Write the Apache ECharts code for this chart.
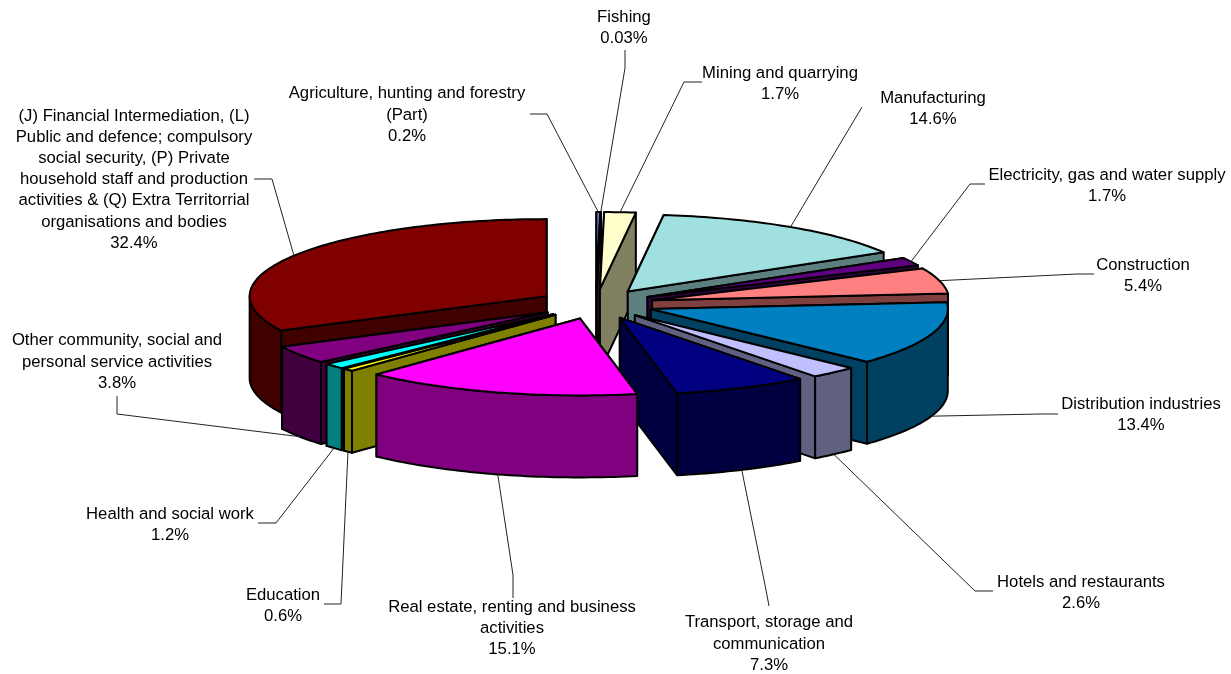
<!DOCTYPE html>
<html>
<head>
<meta charset="utf-8">
<style>html,body{margin:0;padding:0;background:#fff}#c{width:1231px;height:674px}</style>
<script src="https://cdn.jsdelivr.net/npm/echarts@6/dist/echarts.min.js"></script>
</head>
<body>
<div id="c"></div>
<script>
const categories = [
  "Agriculture, hunting and forestry\n(Part)",
  "Fishing",
  "Mining and quarrying",
  "Manufacturing",
  "Electricity, gas and water supply",
  "Construction",
  "Distribution industries",
  "Hotels and restaurants",
  "Transport, storage and\ncommunication",
  "Real estate, renting and business\nactivities",
  "Education",
  "Health and social work",
  "Other community, social and\npersonal service activities",
  "(J) Financial Intermediation, (L)\nPublic and defence; compulsory\nsocial security, (P) Private\nhousehold staff and production\nactivities & (Q) Extra Territorrial\norganisations and bodies"
];
const shares = [0.2, 0.03, 1.7, 14.6, 1.7, 5.4, 13.4, 2.6, 7.3, 15.1, 0.6, 1.2, 3.8, 32.4];
const topColors = ["#8080ff","#802060","#ffffcc","#a0e0e0","#600080","#ff8080","#0080c0","#c0c0ff","#000080","#ff00ff","#ffff00","#00ffff","#800080","#800000"];
const sideColors = ["#404080","#401030","#808060","#5c8080","#300040","#804040","#004060","#606080","#000040","#800080","#808000","#008080","#400040","#400000"];
const labelCenters = [[407,115],[624,27.5],[780,83.5],[933,108.5],[1107,185.5],[1143,275.5],[1141,414.5],[1081,592.5],[769,644],[512,628.5],[283,605.5],[170,524.5],[117,362],[134,179.5]];
const leaderStarts = [
  [[530,114],[547,114]], [[625,50],[625,68]], [[702,82],[684,82]], [[862,107]],
  [[985,184],[970,184]], [[1094,274],[1077,274]], [[1058,414],[1040,414]], [[993,591],[975,591]],
  [[769,606],[766,590]], [[513,598],[513,575]], [[324,604],[341,604]], [[258,523],[276,523]],
  [[117,396],[117,414]], [[254,179],[272,179]]
];

// projection of the tilted pie
const pie = {cx: 596, cy: 304, rx: 297, ry: 77, depth: 82, ex: 58, ey: 15};
const total = shares.reduce((a, b) => a + b, 0);
const slices = [];
let run = 0;
shares.forEach(v => {
  const a0 = run / total * Math.PI * 2;
  run += v;
  const a1 = run / total * Math.PI * 2;
  slices.push({a0, a1, mid: (a0 + a1) / 2});
});
function apexOf(s) {
  return [pie.cx + pie.ex * Math.sin(s.mid), pie.cy - pie.ey * Math.cos(s.mid)];
}
function rim(ap, a, drop) {
  return [ap[0] + pie.rx * Math.sin(a), ap[1] - pie.ry * Math.cos(a) + (drop || 0)];
}
function arcPts(ap, a0, a1, drop) {
  const n = Math.max(1, Math.ceil((a1 - a0) / 0.02));
  const out = [];
  for (let i = 0; i <= n; i++) out.push(rim(ap, a0 + (a1 - a0) * i / n, drop));
  return out;
}
const paintOrder = shares.map((_, i) => i).sort((p, q) => Math.cos(slices[q].mid) - Math.cos(slices[p].mid));
const rank = [];
paintOrder.forEach((idx, r) => { rank[idx] = r; });

function poly(points, fill, z2) {
  return {
    type: 'polygon', z2, silent: true,
    shape: {points},
    style: {fill, stroke: '#000', lineWidth: 2, lineJoin: 'round'}
  };
}
function cutFace(ap, a, fill, z2) {
  const r = rim(ap, a), b = rim(ap, a, pie.depth);
  return poly([ap, r, b, [ap[0], ap[1] + pie.depth]], fill, z2);
}
function renderSlice(params, api) {
  const i = api.value(0);
  const s = slices[i];
  const ap = apexOf(s);
  const base = rank[i] * 10;
  const children = [];
  // hidden cut faces first, then the faces turned to the viewer, then the top
  const startVisible = Math.sin(s.a0) < 0, endVisible = Math.sin(s.a1) > 0;
  if (!startVisible) children.push(cutFace(ap, s.a0, sideColors[i], base));
  if (!endVisible) children.push(cutFace(ap, s.a1, sideColors[i], base));
  if (startVisible) children.push(cutFace(ap, s.a0, sideColors[i], base + 1));
  if (endVisible) children.push(cutFace(ap, s.a1, sideColors[i], base + 1));
  const w0 = Math.max(s.a0, Math.PI / 2), w1 = Math.min(s.a1, Math.PI * 1.5);
  if (w1 > w0) {
    children.push(poly(arcPts(ap, w0, w1).concat(arcPts(ap, w0, w1, pie.depth).reverse()), sideColors[i], base + 2));
  }
  children.push(poly([ap].concat(arcPts(ap, s.a0, s.a1)), topColors[i], base + 3));
  return {type: 'group', children};
}
function renderLabel(params, api) {
  const i = api.value(0);
  const s = slices[i];
  const ap = apexOf(s);
  const front = Math.cos(s.mid) < 0;
  const end = rim(ap, s.mid, front ? pie.depth : 0);
  const v = api.value(1);
  const c = labelCenters[i];
  return {type: 'group', children: [
    {type: 'polyline', z2: 500, silent: true,
      shape: {points: leaderStarts[i].concat([end])},
      style: {fill: null, stroke: '#222', lineWidth: 1}},
    {type: 'text', z2: 501, silent: true,
      style: {
        x: c[0], y: c[1], text: categories[i] + '\n' + v + '%',
        textAlign: 'center', textVerticalAlign: 'middle',
        font: '16.7px "Liberation Sans", Arial, sans-serif', lineHeight: 21.2, fill: '#000'
      }}
  ]};
}
const rows = shares.map((v, i) => [i, v]);
const chart = echarts.init(document.getElementById('c'), null, {renderer: 'canvas'});
chart.setOption({
  animation: false,
  backgroundColor: '#fff',
  series: [
    {type: 'custom', coordinateSystem: 'none', renderItem: renderSlice, data: paintOrder.map(i => rows[i]), z: 2, silent: true},
    {type: 'custom', coordinateSystem: 'none', renderItem: renderLabel, data: rows, z: 3, silent: true}
  ]
});
</script>
</body>
</html>
